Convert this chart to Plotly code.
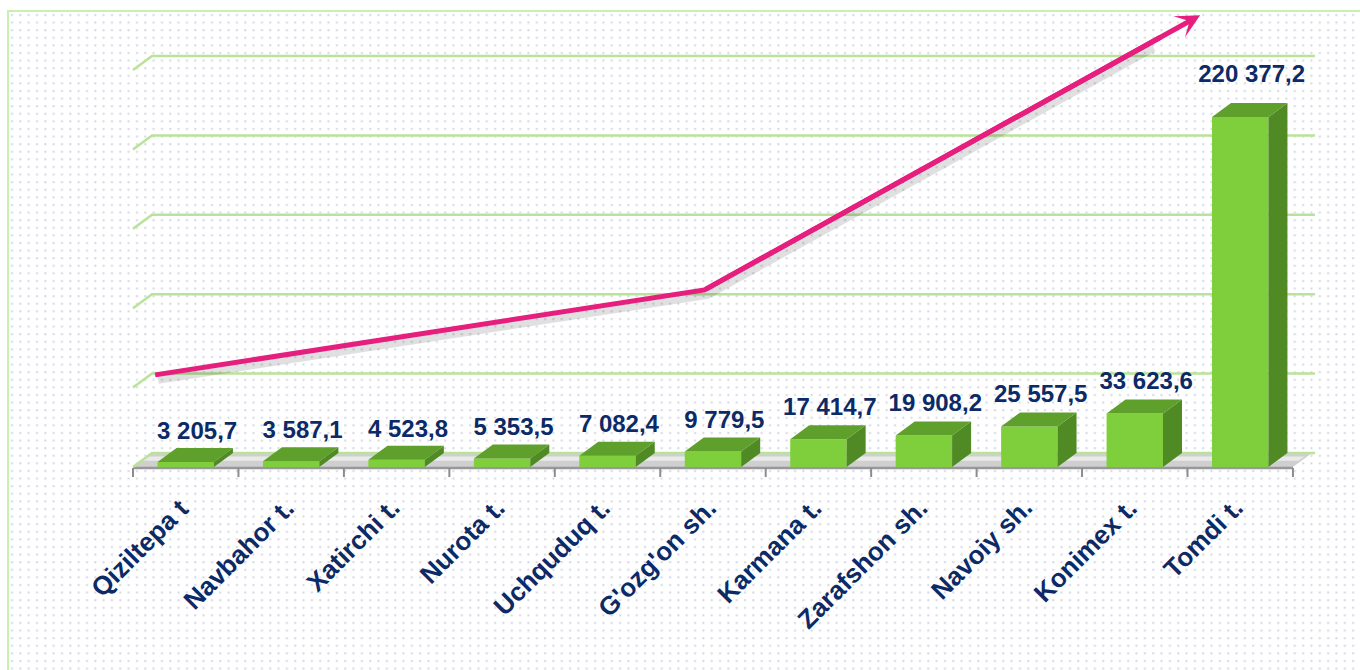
import base64
import plotly.graph_objects as go

# --- data -------------------------------------------------------------
districts = ["Qiziltepa t", "Navbahor t.", "Xatirchi t.", "Nurota t.", "Uchquduq t.",
             "G'ozg'on sh.", "Karmana t.", "Zarafshon sh.", "Navoiy sh.", "Konimex t.",
             "Tomdi t."]
amounts = [3205.7, 3587.1, 4523.8, 5353.5, 7082.4, 9779.5,
           17414.7, 19908.2, 25557.5, 33623.6, 220377.2]
grid_values = [0, 50000, 100000, 150000, 200000, 250000]

# decorative growth arrow (category units, value units)
trend_x = [-0.29, 4.92, 9.62]
trend_y = [58000, 111500, 284500]

# --- geometry of the pseudo-3D drawing --------------------------------
W, H = 1360, 670
X_RANGE = [-1.7613, 11.1358]
Y_RANGE = [-127833, 294079]
ux = (X_RANGE[1] - X_RANGE[0]) / W      # category units per pixel
uy = (Y_RANGE[1] - Y_RANGE[0]) / H      # value units per pixel

bar_w = 0.535
depth_x = 19 * ux
depth_y = 14 * uy
n = len(districts)
x_left, x_right = -0.5, n - 0.5

FRONT = "#7ECF3B"
TOP = "#5F9F2C"
SIDE = "#4F8A25"
NAVY = "#0C2A66"
PINK = "#E61E7E"
GRID = "#B9E398"


def fmt(v):
    return f"{v:,.1f}".replace(",", " ").replace(".", ",")


fig = go.Figure()

# front faces of the columns
fig.add_trace(go.Bar(
    x=list(range(n)), y=amounts, width=bar_w,
    marker=dict(color=FRONT, line=dict(width=0)),
    hoverinfo="skip", showlegend=False,
))

# top and right-hand faces
top_x, top_y, side_x, side_y = [], [], [], []
for i, v in enumerate(amounts):
    l, r = i - bar_w / 2, i + bar_w / 2
    top_x += [l, r, r + depth_x, l + depth_x, l, None]
    top_y += [v, v, v + depth_y, v + depth_y, v, None]
    side_x += [r, r + depth_x, r + depth_x, r, r, None]
    side_y += [0, depth_y, v + depth_y, v, 0, None]

fig.add_trace(go.Scatter(x=side_x, y=side_y, fill="toself", fillcolor=SIDE,
                         mode="lines", line=dict(width=0, color=SIDE),
                         hoverinfo="skip", showlegend=False))
fig.add_trace(go.Scatter(x=top_x, y=top_y, fill="toself", fillcolor=TOP,
                         mode="lines", line=dict(width=0, color=TOP),
                         hoverinfo="skip", showlegend=False))

# value labels above each column
fig.add_trace(go.Scatter(
    x=[i + depth_x * 0.6 for i in range(n)],
    y=[v * 1.035 + depth_y + 3 * uy for v in amounts],
    mode="text", text=[f"<b>{fmt(v)}</b>" for v in amounts],
    textposition="top center",
    textfont=dict(family="Liberation Sans", size=24, color=NAVY),
    hoverinfo="skip", showlegend=False, cliponaxis=False,
))

# arrow shadow and body
sx = [x + 3 * ux for x in trend_x]
sy = [y - 5 * uy for y in trend_y]
fig.add_trace(go.Scatter(
    x=[sx[0], sx[1], sx[1] + 0.9 * (sx[2] - sx[1])],
    y=[sy[0], sy[1], sy[1] + 0.9 * (sy[2] - sy[1])],
    mode="lines", line=dict(color="rgba(0,0,0,0.12)", width=8),
    hoverinfo="skip", showlegend=False))
fig.add_trace(go.Scatter(
    x=[trend_x[0], trend_x[1], trend_x[1] + 0.92 * (trend_x[2] - trend_x[1])],
    y=[trend_y[0], trend_y[1], trend_y[1] + 0.92 * (trend_y[2] - trend_y[1])],
    mode="lines", line=dict(color=PINK, width=5),
    hoverinfo="skip", showlegend=False))

annotations = [dict(
    x=trend_x[2], y=trend_y[2], ax=trend_x[1], ay=trend_y[1],
    xref="x", yref="y", axref="x", ayref="y",
    showarrow=True, arrowhead=3, arrowsize=0.8, arrowwidth=5,
    arrowcolor=PINK, text="", standoff=0,
)]

# category labels
for i, name in enumerate(districts):
    annotations.append(dict(
        x=i + 0.11, y=-23 * uy, xref="x", yref="y",
        text=f"<b>{name}</b>", textangle=-45, showarrow=False,
        xanchor="right", yanchor="top",
        font=dict(family="Liberation Sans", size=26, color=NAVY),
    ))

shapes = []
# floor slab
shapes.append(dict(
    type="path", xref="x", yref="y", layer="below",
    path=(f"M{x_left},0 L{x_right},0 L{x_right + depth_x},{depth_y} "
          f"L{x_left + depth_x},{depth_y} Z"),
    fillcolor="#CFCFCF", line=dict(width=0),
))
shapes.append(dict(
    type="path", xref="x", yref="y", layer="below",
    path=(f"M{x_left + depth_x * 0.3},{depth_y * 0.45} L{x_right + depth_x * 0.3},{depth_y * 0.45} "
          f"L{x_right + depth_x * 0.6},{depth_y * 0.75} L{x_left + depth_x * 0.6},{depth_y * 0.75} Z"),
    fillcolor="rgba(255,255,255,0.55)", line=dict(width=0),
))
shapes.append(dict(type="line", xref="x", yref="y", layer="below",
                   x0=x_left, x1=x_right, y0=-1 * uy, y1=-1 * uy,
                   line=dict(color="#989898", width=2.5)))
# gridlines on back and side walls
for g in grid_values:
    shapes.append(dict(
        type="path", xref="x", yref="y", layer="below",
        path=(f"M{x_left},{g} L{x_left + depth_x},{g + depth_y} "
              f"L{x_right + depth_x + 3 * ux},{g + depth_y}"),
        line=dict(color=GRID, width=2.5),
    ))
# category tick marks
for k in range(n + 1):
    shapes.append(dict(type="line", xref="x", yref="y", layer="below",
                       x0=x_left + k, x1=x_left + k, y0=-1 * uy, y1=-10 * uy,
                       line=dict(color="#8C8C8C", width=2)))
# outer frame
shapes.append(dict(type="rect", xref="paper", yref="paper", layer="above",
                   x0=8 / W, x1=1.01, y0=-0.01, y1=1 - 11 / H,
                   line=dict(color="#C8F0AE", width=2), fillcolor="rgba(0,0,0,0)"))

# dotted backdrop
bw, bh = W - 8, H - 11
svg = (f'<svg xmlns="http://www.w3.org/2000/svg" width="{bw}" height="{bh}">'
       '<defs><pattern id="d" width="8.33" height="7.6" patternUnits="userSpaceOnUse">'
       '<rect x="3" y="3" width="2" height="2" fill="#D2D6E5"/></pattern></defs>'
       '<rect width="100%" height="100%" fill="url(#d)"/></svg>')
src = "data:image/svg+xml;base64," + base64.b64encode(svg.encode()).decode()

fig.update_layout(
    width=W, height=H,
    margin=dict(l=0, r=0, t=0, b=0),
    paper_bgcolor="white", plot_bgcolor="rgba(0,0,0,0)",
    xaxis=dict(range=X_RANGE, visible=False, fixedrange=True),
    yaxis=dict(range=Y_RANGE, visible=False, fixedrange=True),
    shapes=shapes, annotations=annotations,
    images=[dict(source=src, xref="paper", yref="paper", x=8 / W, y=1 - 11 / H,
                 sizex=bw / W, sizey=bh / H, xanchor="left", yanchor="top",
                 sizing="stretch", layer="below")],
    showlegend=False,
)

fig.write_html("out.html")
